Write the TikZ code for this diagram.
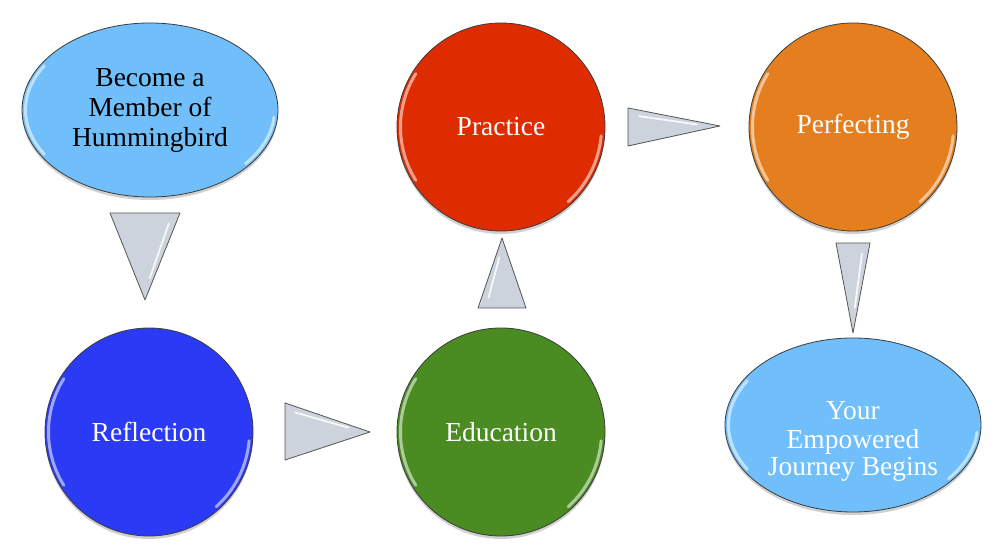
\documentclass[tikz,border=0pt]{standalone}
\usepackage{fontspec}
\setmainfont{Liberation Serif}
\usetikzlibrary{calc,shadows,shapes.geometric}
\definecolor{skyfill}{RGB}{112,190,250}
\definecolor{bluefill}{RGB}{42,58,245}
\definecolor{greenfill}{RGB}{74,140,34}
\definecolor{redfill}{RGB}{222,44,0}
\definecolor{orangefill}{RGB}{228,126,30}
\definecolor{trifill}{RGB}{204,211,220}
\definecolor{triedge}{RGB}{85,85,85}
\definecolor{rimline}{RGB}{60,60,60}
\tikzset{
  base/.style={draw=rimline, line width=0.8pt, inner sep=0pt, align=center,
    font=\fontsize{27.5}{30}\selectfont,
    drop shadow={shadow xshift=0pt, shadow yshift=-3pt, opacity=0.3, fill=black!60}},
  ball/.style={base, circle, minimum size=208pt, text=white},
  oval/.style={base, ellipse, minimum width=256pt, minimum height=174pt},
  tri/.style={fill=trifill, draw=triedge, line width=0.8pt, line join=round},
  gloss/.style={white, line width=3pt, opacity=0.55, line cap=round},
  trigloss/.style={white, line width=1.8pt, opacity=0.85, line cap=round},
}
\newcommand{\ballgloss}[1]{%
  \draw[gloss] ($(#1.center)+(148:100.5)$) arc[start angle=148, end angle=212, radius=100.5];
  \draw[gloss] ($(#1.center)+(-5:100.5)$) arc[start angle=-5, end angle=-48, radius=100.5];
}
\newcommand{\ovalgloss}[1]{%
  \draw[gloss] ($(#1.center)+({124.5*cos(148)},{83.5*sin(148)})$) arc[start angle=148, end angle=212, x radius=124.5, y radius=83.5];
  \draw[gloss] ($(#1.center)+({124.5*cos(-5)},{83.5*sin(-5)})$) arc[start angle=-5, end angle=-40, x radius=124.5, y radius=83.5];
}
\begin{document}
\begin{tikzpicture}[x=1pt,y=1pt]
\useasboundingbox[fill=white] (0,0) rectangle (996,556);

\node[oval, fill=skyfill, text=black] (member) at (150,446) {Become a\\Member of\\Hummingbird};
\node[ball, fill=bluefill] (refl) at (149,124) {Reflection};
\node[ball, fill=greenfill] (edu) at (501,124) {Education};
\node[ball, fill=redfill] (prac) at (501,429) {Practice};
\node[ball, fill=orangefill] (perf) at (853,429) {Perfecting};
\node[oval, fill=skyfill, text=white, text depth=0pt, inner sep=0pt] (journey) at (853,131) {\raisebox{3pt}{\begin{tabular}{@{}c@{}}Your\\[-1pt]Empowered\\[-3pt]Journey Begins\end{tabular}}};

\ovalgloss{member}
\ovalgloss{journey}
\ballgloss{refl}
\ballgloss{edu}
\ballgloss{prac}
\ballgloss{perf}

% triangles between nodes
\coordinate (t1a) at (110,343); \coordinate (t1b) at (180,343); \coordinate (t1c) at (145,256);
\coordinate (t2a) at (285,153); \coordinate (t2b) at (285,96);  \coordinate (t2c) at (370,124);
\coordinate (t3a) at (478,248); \coordinate (t3b) at (526,248); \coordinate (t3c) at (502,318);
\coordinate (t4a) at (628,448); \coordinate (t4b) at (628,410); \coordinate (t4c) at (720,430);
\coordinate (t5a) at (836,313); \coordinate (t5b) at (870,313); \coordinate (t5c) at (853,223);

\foreach \t in {t1,t2,t3,t4,t5}{
  \draw[tri] (\t a) -- (\t b) -- (\t c) -- cycle;
}
\draw[trigloss] ($(t1b)!0.12!(t1c)+(-7,0)$) -- ($(t1b)!0.75!(t1c)+(-4,0)$);
\draw[trigloss] ($(t2a)!0.12!(t2c)+(0,-6)$) -- ($(t2a)!0.75!(t2c)+(0,-3)$);
\draw[trigloss] ($(t3a)!0.15!(t3c)+(7,0)$) -- ($(t3a)!0.72!(t3c)+(4,0)$);
\draw[trigloss] ($(t4a)!0.12!(t4c)+(0,-6)$) -- ($(t4a)!0.75!(t4c)+(0,-3)$);
\draw[trigloss] ($(t5b)!0.12!(t5c)+(-6,0)$) -- ($(t5b)!0.72!(t5c)+(-3,0)$);
\end{tikzpicture}
\end{document}
